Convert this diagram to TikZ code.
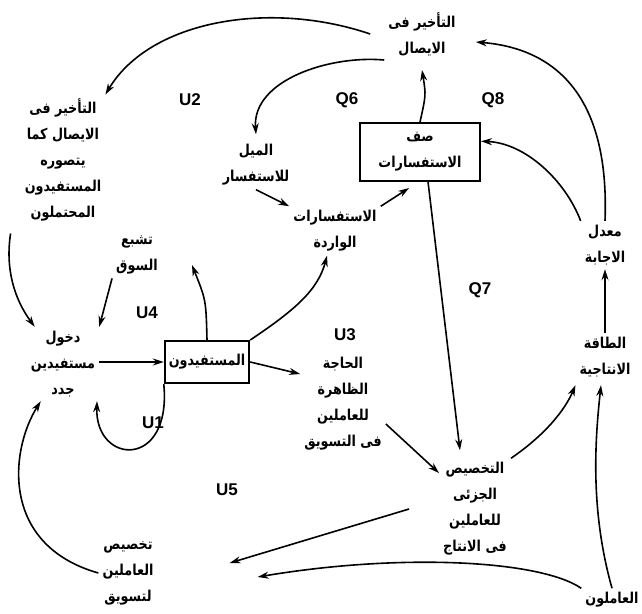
\documentclass[tikz,border=0pt]{standalone}
\usepackage{fontspec}
\setsansfont{Liberation Sans}
\newfontfamily\arabicfont[Script=Arabic,FakeStretch=0.85]{DejaVu Sans}
\TeXXeTstate=1
\usetikzlibrary{arrows.meta}
\newcommand{\artext}[1]{\beginR #1\endR}
\tikzset{
  arnode/.style={font=\arabicfont\bfseries\fontsize{15}{26}\selectfont,
    align=center, inner sep=4pt},
  stockbox/.style={arnode, draw, line width=2pt,
    minimum width=#1, minimum height=42pt},
  stockbox/.default=80pt,
  looplabel/.style={font=\sffamily\bfseries\fontsize{17}{20}\selectfont},
  flow/.style={-{Stealth[length=11pt,width=7pt]}, line width=1.6pt},
}

\begin{document}
\begin{tikzpicture}[x=1pt,y=-1pt]
  \useasboundingbox (0,0) rectangle (642,613);
  % stocks
  \node[stockbox=120pt, minimum height=58pt] (queue) at (420,152) {\artext{صف}\\\artext{الاستفسارات}};
  \node[stockbox] (users) at (207,362) {\artext{المستفيدون}};
  % auxiliaries
  \node[arnode] (delay) at (422,34) {\artext{التأخير فى}\\\artext{الايصال}};
  \node[arnode] (perceived) at (63,160) {\artext{التأخير فى}\\\artext{الايصال كما}\\\artext{يتصوره}\\\artext{المستفيدون}\\\artext{المحتملون}};
  \node[arnode] (tendency) at (256,165) {\artext{الميل}\\\artext{للاستفسار}};
  \node[arnode] (incoming) at (335,231) {\artext{الاستفسارات}\\\artext{الواردة}};
  \node[arnode] (rate) at (605,245) {\artext{معدل}\\\artext{الاجابة}};
  \node[arnode] (capacity) at (605,357) {\artext{الطاقة}\\\artext{الانتاجية}};
  \node[arnode] (saturation) at (137,255) {\artext{تشبع}\\\artext{السوق}};
  \node[arnode] (entry) at (63,364) {\artext{دخول}\\\artext{مستفيدين}\\\artext{جدد}};
  \node[arnode] (need) at (343,404) {\artext{الحاجة}\\\artext{الظاهرة}\\\artext{للعاملين}\\\artext{فى التسويق}};
  \node[arnode] (prodalloc) at (475,509) {\artext{التخصيص}\\\artext{الجزئى}\\\artext{للعاملين}\\\artext{فى الانتاج}};
  \node[arnode] (mktalloc) at (128,573) {\artext{تخصيص}\\\artext{العاملين}\\\artext{لتسويق}};
  \node[arnode] (workers) at (612,600) {\artext{العاملون}};
  % loop labels
  \node[looplabel] (labU1) at (153,423) {U1};
  \node[looplabel] (labU2) at (190,100) {U2};
  \node[looplabel] (labU3) at (345,335) {U3};
  \node[looplabel] (labU4) at (147,313) {U4};
  \node[looplabel] (labU5) at (227,490) {U5};
  \node[looplabel] (labQ6) at (347,100) {Q6};
  \node[looplabel] (labQ7) at (480,290) {Q7};
  \node[looplabel] (labQ8) at (493,100) {Q8};
  % links
  \draw[flow] ([xshift=-14pt]delay.west) .. controls (270,0) and (150,20) .. (perceived.north east);
  \draw[flow] (delay.south west) .. controls (330,55) and (252,80) .. ([yshift=6pt]tendency.north);
  \draw[flow] (tendency.south) -- (incoming.north west);
  \draw[flow] (incoming.north east) -- ([yshift=-6pt]queue.250);
  \draw[flow] (queue.north) .. controls (426,95) .. ([yshift=-10pt]delay.south);
  \draw[flow] (rate.north) .. controls (610,90) and (550,48) .. ([xshift=16pt,yshift=-8pt]delay.east);
  \draw[flow] (rate.north west) .. controls (565,180) and (525,143) .. (queue.10);
  \draw[flow] (capacity) -- (rate);
  \draw[flow] (queue.285) -- ([xshift=-15pt,yshift=8pt]prodalloc.north);
  \draw[flow] (prodalloc.north east) .. controls (545,435) and (565,410) .. ([yshift=-4pt]capacity.south west);
  \draw[flow] (workers.north) .. controls (590,510) and (595,440) .. ([xshift=-4pt,yshift=-4pt]capacity.south);
  \draw[flow] (workers.north west) .. controls (540,560) and (400,553) .. ([xshift=100pt,yshift=-4pt]mktalloc.east);
  \draw[flow] ([xshift=-30pt]prodalloc.west) -- ([xshift=72pt,yshift=10pt]mktalloc.east);
  \draw[flow] (mktalloc.west) .. controls (0,545) and (10,450) .. ([xshift=14pt]entry.south west);
  \draw[flow] ([xshift=-10pt,yshift=-8pt]perceived.south west) .. controls (5,270) and (15,300) .. ([xshift=8pt]entry.north west);
  \draw[flow] (saturation.south west) -- (entry.north east);
  \draw[flow] (entry.east |- users.west) -- (users.west);
  \draw[flow] (users.north) .. controls (206,300) .. ([shift={(30pt,-10pt)}]saturation.east);
  \draw[flow] (users.north east) .. controls (295,310) and (318,290) .. ([xshift=-8pt]incoming.south);
  \draw[flow] (users.east) -- (need.145);
  \draw[flow] (need.-25) -- (prodalloc.135);
  \draw[flow] (users.south west) .. controls (172,470) and (95,465) .. ([xshift=34pt]entry.south);
\end{tikzpicture}
\end{document}
